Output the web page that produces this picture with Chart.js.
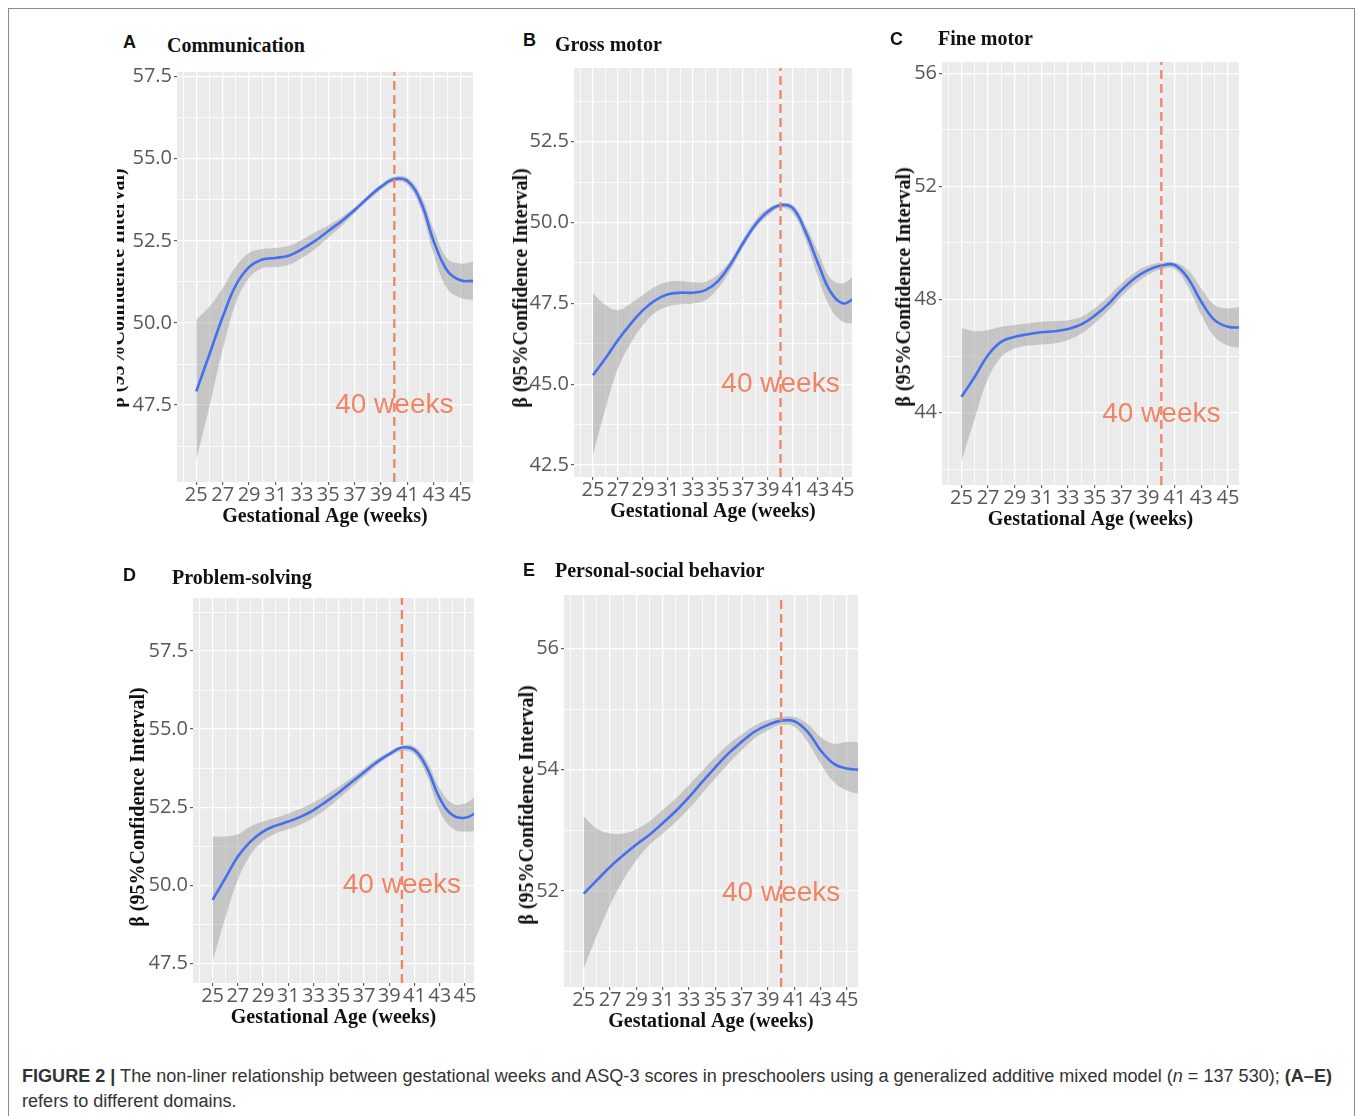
<!DOCTYPE html>
<html lang="en">
<head>
<meta charset="utf-8">
<title>Figure 2</title>
<script src="https://cdn.jsdelivr.net/npm/chart.js@4.4.1/dist/chart.umd.min.js"></script>
<style>
    body { margin: 0; background: #fff; width: 1358px; height: 1116px; position: relative; overflow: hidden; }
    .frame { position: absolute; left: 8px; top: 8px; width: 1347px; height: 1130px; border: 1px solid #8c8c8c; box-sizing: border-box; }
    canvas { position: absolute; }
    .letter { position: absolute; font: bold 18px/18px "Liberation Sans", Arial, sans-serif; color: #111; white-space: nowrap; }
    .ptitle { position: absolute; font: bold 20px/20px "Liberation Serif", "Times New Roman", serif; color: #111; white-space: nowrap; }
    .ytitle { position: absolute; font: bold 20px/20px "Liberation Serif", "Times New Roman", serif; color: #111; white-space: nowrap;
              transform: translate(-50%, -50%) rotate(-90deg); }
    .clip { position: absolute; top: 0; height: 1116px; overflow: hidden; }
    .caption { position: absolute; left: 22px; font: 18px/20px "Liberation Sans Narrow", "Liberation Sans", Arial, sans-serif;
               color: #333; white-space: nowrap; transform-origin: 0 50%; }
</style>
</head>
<body>
<div class="frame"></div>
<div id="panels"></div>
<div class="caption" id="cap1" style="top:1066px"><b>FIGURE 2 |</b> The non-liner relationship between gestational weeks and ASQ-3 scores in preschoolers using a generalized additive mixed model (<i>n</i> = 137 530); <b>(A–E)</b></div>
<div class="caption" id="cap2" style="top:1091px">refers to different domains.</div>
<script>
// --- datos ---
const weeks = [25, 26, 27, 28, 29, 30, 31, 32, 33, 34, 35, 36, 37, 38, 39, 40, 41, 42, 43, 44, 45, 46];
const xMajor = [25, 27, 29, 31, 33, 35, 37, 39, 41, 43, 45];
const xMinor = [24, 26, 28, 30, 32, 34, 36, 38, 40, 42, 44];
const refWeek = 40;
const refText = '40 weeks';
const xTitle = 'Gestational Age (weeks)';
const yTitle = 'β (95%Confidence Interval)';

// A - Communication
const commFit   = [47.92, 49.05, 50.18, 51.15, 51.70, 51.93, 51.98, 52.05, 52.25, 52.50, 52.80, 53.10, 53.44, 53.81, 54.15, 54.38, 54.32, 53.70, 52.47, 51.60, 51.30, 51.28];
const commUpper = [50.10, 50.50, 51.06, 51.72, 52.13, 52.25, 52.28, 52.35, 52.53, 52.76, 52.97, 53.22, 53.52, 53.88, 54.22, 54.45, 54.42, 53.90, 52.83, 51.97, 51.81, 51.87];
const commLower = [45.84, 47.46, 49.19, 50.61, 51.37, 51.67, 51.70, 51.77, 51.98, 52.25, 52.60, 52.95, 53.34, 53.72, 54.05, 54.30, 54.20, 53.47, 52.07, 51.05, 50.77, 50.70];
const commTicks = [47.5, 50, 52.5, 55, 57.5];
const commMinor = [46.25, 48.75, 51.25, 53.75, 56.25];
const commLabelY = 47.5;

// B - Gross motor
const grossFit   = [45.28, 45.80, 46.37, 46.86, 47.29, 47.60, 47.78, 47.83, 47.83, 47.91, 48.19, 48.71, 49.36, 49.94, 50.34, 50.54, 50.44, 49.72, 48.74, 47.86, 47.50, 47.68];
const grossUpper = [47.81, 47.45, 47.29, 47.50, 47.76, 48.02, 48.17, 48.19, 48.15, 48.17, 48.40, 48.84, 49.49, 50.08, 50.44, 50.59, 50.54, 49.92, 49.10, 48.27, 48.12, 48.42];
const grossLower = [42.81, 44.25, 45.49, 46.26, 46.83, 47.22, 47.40, 47.47, 47.50, 47.60, 47.96, 48.53, 49.22, 49.82, 50.21, 50.46, 50.28, 49.46, 48.32, 47.35, 46.93, 46.88];
const grossTicks = [42.5, 45, 47.5, 50, 52.5];
const grossMinor = [43.75, 46.25, 48.75, 51.25, 53.75];
const grossLabelY = 45;

// C - Fine motor
const fineFit   = [44.56, 45.27, 46.04, 46.51, 46.68, 46.77, 46.84, 46.88, 46.96, 47.12, 47.43, 47.83, 48.33, 48.75, 49.04, 49.20, 49.22, 48.75, 47.92, 47.27, 47.04, 47.01];
const fineUpper = [46.98, 46.88, 46.92, 47.04, 47.10, 47.16, 47.21, 47.24, 47.27, 47.39, 47.69, 48.10, 48.57, 48.95, 49.20, 49.31, 49.31, 49.04, 48.39, 47.80, 47.69, 47.75];
const fineLower = [42.26, 43.80, 45.21, 45.98, 46.27, 46.37, 46.41, 46.45, 46.57, 46.80, 47.16, 47.60, 48.10, 48.54, 48.87, 49.07, 49.07, 48.45, 47.45, 46.68, 46.37, 46.29];
const fineTicks = [44, 48, 52, 56];
const fineMinor = [42, 46, 50, 54];
const fineLabelY = 43.95;

// D - Problem-solving
const probFit   = [49.53, 50.22, 50.92, 51.40, 51.72, 51.91, 52.04, 52.20, 52.41, 52.68, 52.97, 53.30, 53.62, 53.94, 54.20, 54.41, 54.33, 53.74, 52.78, 52.25, 52.16, 52.35];
const probUpper = [51.56, 51.56, 51.63, 51.88, 52.04, 52.16, 52.30, 52.46, 52.65, 52.89, 53.16, 53.44, 53.74, 54.04, 54.28, 54.47, 54.44, 53.96, 53.10, 52.62, 52.62, 52.92];
const probLower = [47.55, 48.94, 50.17, 50.97, 51.42, 51.66, 51.80, 51.95, 52.16, 52.44, 52.78, 53.12, 53.48, 53.83, 54.12, 54.30, 54.19, 53.48, 52.36, 51.82, 51.72, 51.75];
const probTicks = [47.5, 50, 52.5, 55, 57.5];
const probMinor = [48.75, 51.25, 53.75, 56.25, 58.75];
const probLabelY = 50;

// E - Personal-social behavior
const socFit   = [51.96, 52.18, 52.40, 52.59, 52.77, 52.93, 53.12, 53.32, 53.55, 53.80, 54.04, 54.27, 54.46, 54.63, 54.74, 54.81, 54.80, 54.63, 54.32, 54.10, 54.02, 54.00];
const socUpper = [53.23, 53.03, 52.95, 52.95, 53.02, 53.15, 53.34, 53.53, 53.75, 53.98, 54.21, 54.42, 54.58, 54.73, 54.82, 54.87, 54.87, 54.76, 54.54, 54.43, 54.46, 54.45];
const socLower = [50.73, 51.27, 51.77, 52.18, 52.51, 52.76, 52.95, 53.14, 53.36, 53.61, 53.86, 54.10, 54.32, 54.52, 54.65, 54.74, 54.71, 54.46, 54.10, 53.80, 53.66, 53.60];
const socTicks = [52, 54, 56];
const socMinor = [51, 53, 55];
const socLabelY = 51.97;

// --- colores ---
const PANEL_BG = '#ebebeb';
const LINE_BLUE = '#4470f0';
const BAND = 'rgba(150,150,150,0.45)';
const REF = '#f08466';
const TICK_TXT = '#585858';

// --- disposición de cada panel (posición en la página) ---
const panels = [
    { letter: 'A', title: 'Communication', fit: commFit, upper: commUpper, lower: commLower, ticks: commTicks, minor: commMinor,
      labelY: commLabelY, digits: 1, plot: [177, 72, 473, 482], xr: [23.54, 45.96], yr: [45.16, 57.64],
      letterPos: [123, 32.6], titlePos: [167, 34.5], yTitlePos: [117, 288], clipLeft: 117 },
    { letter: 'B', title: 'Gross motor', fit: grossFit, upper: grossUpper, lower: grossLower, ticks: grossTicks, minor: grossMinor,
      labelY: grossLabelY, digits: 1, plot: [574, 68, 852, 477], xr: [23.48, 45.72], yr: [42.13, 54.78],
      letterPos: [523, 30.6], titlePos: [555, 33.5], yTitlePos: [519.5, 288] },
    { letter: 'C', title: 'Fine motor', fit: fineFit, upper: fineUpper, lower: fineLower, ticks: fineTicks, minor: fineMinor,
      labelY: fineLabelY, digits: 0, plot: [942, 62, 1239, 485], xr: [23.54, 45.83], yr: [41.44, 56.4],
      letterPos: [890, 29.6], titlePos: [938, 28], yTitlePos: [902.5, 287] },
    { letter: 'D', title: 'Problem-solving', fit: probFit, upper: probUpper, lower: probLower, ticks: probTicks, minor: probMinor,
      labelY: probLabelY, digits: 1, plot: [193, 598, 474, 983], xr: [23.45, 45.71], yr: [46.87, 59.2],
      letterPos: [123, 565.6], titlePos: [172, 566.5], yTitlePos: [136.5, 807] },
    { letter: 'E', title: 'Personal-social behavior', fit: socFit, upper: socUpper, lower: socLower, ticks: socTicks, minor: socMinor,
      labelY: socLabelY, digits: 0, plot: [564, 595, 858, 987], xr: [23.5, 45.84], yr: [50.42, 56.88],
      letterPos: [523, 560.6], titlePos: [555, 560], yTitlePos: [525.5, 805] }
];

// fondo gris del panel y etiqueta "40 weeks"
const panelDecor = {
    id: 'panelDecor',
    beforeDraw(chart) {
        const { ctx, chartArea: a } = chart;
        ctx.save();
        ctx.fillStyle = PANEL_BG;
        ctx.fillRect(a.left, a.top, a.right - a.left, a.bottom - a.top);
        ctx.restore();
    },
    beforeDatasetsDraw(chart, args, opts) {
        const { ctx, scales } = chart;
        ctx.save();
        ctx.font = '28px "Liberation Sans", Arial, sans-serif';
        ctx.fillStyle = REF;
        ctx.textAlign = 'center';
        ctx.textBaseline = 'middle';
        ctx.fillText(refText, scales.x.getPixelForValue(refWeek), scales.y.getPixelForValue(opts.labelY));
        ctx.restore();
    }
};

const host = document.getElementById('panels');
const YW = 50, PAD_T = 16, PAD_R = 8, XH = 47;

function addText(cls, text, left, top) {
    const d = document.createElement('div');
    d.className = cls;
    d.textContent = text;
    d.style.left = left + 'px';
    d.style.top = top + 'px';
    document.body.appendChild(d);
    return d;
}

function makePanel(p) {
    const [L, T, R, B] = p.plot;
    const canvas = document.createElement('canvas');
    canvas.width = YW + (R - L) + PAD_R;
    canvas.height = PAD_T + (B - T) + XH;
    canvas.style.left = (L - YW) + 'px';
    canvas.style.top = (T - PAD_T) + 'px';
    host.appendChild(canvas);

    const pts = arr => weeks.map((w, i) => ({ x: w, y: arr[i] }));
    const yAll = p.ticks.concat(p.minor).sort((a, b) => a - b);
    const xAll = xMajor.concat(xMinor).sort((a, b) => a - b);
    const isMajorX = v => xMajor.includes(v);
    const isMajorY = v => p.ticks.includes(v);

    new Chart(canvas.getContext('2d'), {
        type: 'line',
        data: {
            datasets: [
                { data: [{ x: refWeek, y: p.yr[0] }, { x: refWeek, y: p.yr[1] }], borderColor: REF, borderWidth: 2.3,
                  borderDash: [9, 5], pointRadius: 0, fill: false, tension: 0 },
                { data: pts(p.fit), borderColor: LINE_BLUE, borderWidth: 2.6, pointRadius: 0, fill: false, tension: 0.4 },
                { data: pts(p.upper), borderWidth: 0, pointRadius: 0, fill: '+1', backgroundColor: BAND, tension: 0.4 },
                { data: pts(p.lower), borderWidth: 0, pointRadius: 0, fill: false, tension: 0.4 }
            ]
        },
        options: {
            responsive: false,
            animation: false,
            devicePixelRatio: 1,
            layout: { padding: { left: 0, top: PAD_T, right: PAD_R, bottom: 0 } },
            plugins: {
                legend: { display: false },
                tooltip: { enabled: false },
                panelDecor: { labelY: p.labelY }
            },
            scales: {
                x: {
                    type: 'linear', min: p.xr[0], max: p.xr[1],
                    afterBuildTicks: s => { s.ticks = xAll.map(v => ({ value: v })); },
                    afterFit: s => { s.height = XH; },
                    border: { display: false },
                    grid: {
                        color: '#ffffff',
                        lineWidth: c => (c.tick && isMajorX(c.tick.value)) ? 1.3 : 0.8,
                        drawTicks: true, tickLength: 3, tickWidth: 1,
                        tickColor: c => (c.tick && isMajorX(c.tick.value)) ? '#444' : 'rgba(0,0,0,0)'
                    },
                    ticks: {
                        autoSkip: false, maxRotation: 0, minRotation: 0, padding: -2, color: TICK_TXT,
                        font: { family: '"Open Sans", sans-serif', size: 20 },
                        callback: v => isMajorX(v) ? String(v) : ''
                    },
                    title: { display: true, text: xTitle, color: '#111', padding: 0,
                             font: { family: '"Liberation Serif", "Times New Roman", serif', size: 20, weight: 'bold' } }
                },
                y: {
                    type: 'linear', min: p.yr[0], max: p.yr[1],
                    afterBuildTicks: s => { s.ticks = yAll.map(v => ({ value: v })); },
                    afterFit: s => { s.width = YW; },
                    border: { display: false },
                    grid: {
                        color: '#ffffff',
                        lineWidth: c => (c.tick && isMajorY(c.tick.value)) ? 1.3 : 0.8,
                        drawTicks: true, tickLength: 3, tickWidth: 1,
                        tickColor: c => (c.tick && isMajorY(c.tick.value)) ? '#444' : 'rgba(0,0,0,0)'
                    },
                    ticks: {
                        autoSkip: false, padding: 2, color: TICK_TXT,
                        font: { family: '"Open Sans", sans-serif', size: 20 },
                        callback: v => isMajorY(v) ? v.toFixed(p.digits) : ''
                    }
                }
            }
        },
        plugins: [panelDecor]
    });

    addText('letter', p.letter, p.letterPos[0], p.letterPos[1]);
    addText('ptitle', p.title, p.titlePos[0], p.titlePos[1]);

    // título del eje y (en A queda recortado como en el original)
    let parent = document.body, offset = 0;
    if (p.clipLeft !== undefined) {
        parent = document.createElement('div');
        parent.className = 'clip';
        parent.style.left = p.clipLeft + 'px';
        parent.style.width = '40px';
        document.body.appendChild(parent);
        offset = p.clipLeft;
    }
    const yt = document.createElement('div');
    yt.className = 'ytitle';
    yt.textContent = yTitle;
    yt.style.left = (p.yTitlePos[0] - offset) + 'px';
    yt.style.top = p.yTitlePos[1] + 'px';
    parent.appendChild(yt);
}

panels.forEach(makePanel);

// ajustar el pie de figura al ancho del original
const cap1 = document.getElementById('cap1');
const cap2 = document.getElementById('cap2');
const k = 1310 / cap1.getBoundingClientRect().width;
cap1.style.transform = `scaleX(${k})`;
cap2.style.transform = `scaleX(${k})`;
</script>
</body>
</html>
